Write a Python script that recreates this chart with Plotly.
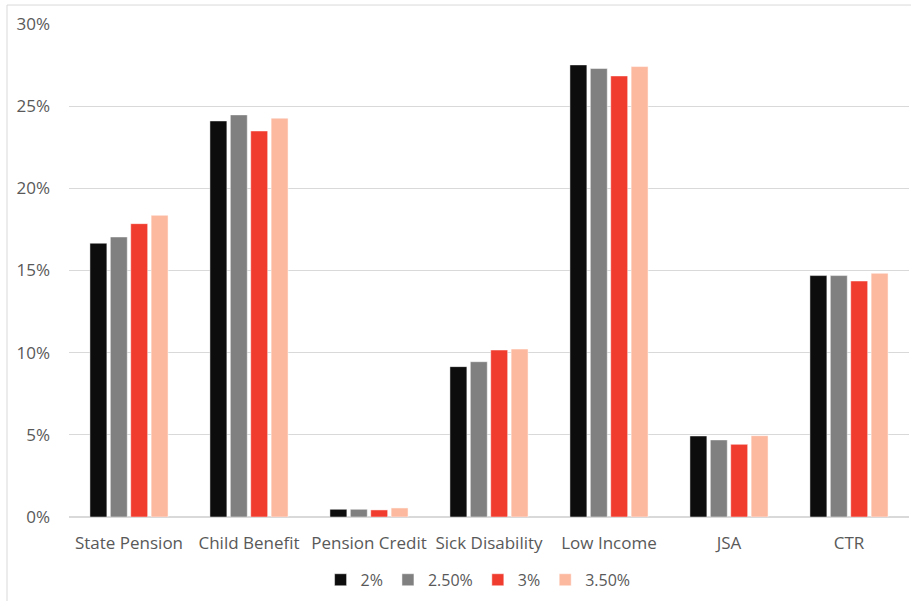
import plotly.graph_objects as go

categories = ["State Pension", "Child Benefit", "Pension Credit", "Sick Disability", "Low Income", "JSA", "CTR"]
series_names = ["2%", "2.50%", "3%", "3.50%"]
v_2 = [16.66, 24.10, 0.47, 9.15, 27.51, 4.93, 14.69]
v_25 = [17.04, 24.47, 0.47, 9.45, 27.29, 4.69, 14.69]
v_3 = [17.85, 23.49, 0.43, 10.16, 26.84, 4.42, 14.36]
v_35 = [18.36, 24.27, 0.55, 10.22, 27.41, 4.95, 14.83]
colors = ["#0d0d0d", "#808080", "#f03c2e", "#fdb9a0"]

fig = go.Figure()
for name, vals, c in zip(series_names, [v_2, v_25, v_3, v_35], colors):
    fig.add_trace(go.Bar(x=categories, y=[v / 100 for v in vals], name=name,
                         marker=dict(color=c, line=dict(color="rgba(255,255,255,0.6)", width=0.8))))

font = dict(family="Open Sans, Noto Sans, sans-serif", size=17, color="#595959")
fig.update_layout(
    width=911, height=601,
    margin=dict(l=69, r=2, t=24, b=84, autoexpand=False),
    paper_bgcolor="white", plot_bgcolor="white",
    barmode="group", bargap=0.32, bargroupgap=0.17,
    font=font,
    showlegend=True,
    legend=dict(orientation="h", x=0.487, xanchor="center", y=-0.093, yanchor="top",
                font=dict(family="Open Sans, Noto Sans, sans-serif", size=16, color="#595959"),
                itemwidth=30, traceorder="normal"),
    xaxis=dict(showgrid=False, showline=False, ticks="", tickfont=font, ticklabelstandoff=14),
    yaxis=dict(range=[0, 0.30], dtick=0.05, tickformat=".0%", showgrid=True,
               gridcolor="#d9d9d9", gridwidth=1, zeroline=True, zerolinecolor="#d9d9d9",
               showline=False, ticks="", tickfont=font, ticklabelstandoff=18),
    shapes=[dict(type="rect", xref="paper", yref="paper", x0=-0.0738, x1=1.1, y0=-0.4, y1=1.0385,
                 line=dict(color="#d9d9d9", width=1), fillcolor="rgba(0,0,0,0)", layer="below")],
)
fig.write_html("out.html")
